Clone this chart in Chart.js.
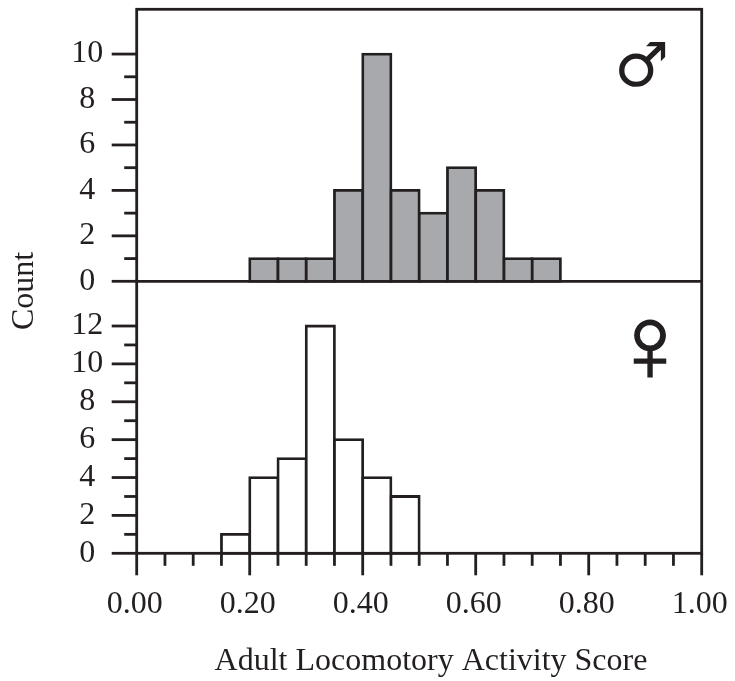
<!DOCTYPE html>
<html>
<head>
<meta charset="utf-8">
<style>html,body{margin:0;padding:0;background:#fff}#w{width:735px;height:681px}</style>
<script src="https://cdn.jsdelivr.net/npm/chart.js@4"></script>
</head>
<body>
<div id="w"><canvas id="c" width="735" height="681"></canvas></div>
<script>
const maleBins = [0.225,0.275,0.325,0.375,0.425,0.475,0.525,0.575,0.625,0.675,0.725];
const maleCounts = [1,1,1,4,10,4,3,5,4,1,1];
const femaleBins = [0.175,0.225,0.275,0.325,0.375,0.425,0.475];
const femaleCounts = [1,4,5,12,6,4,3];
const xTicks = [0,0.05,0.10,0.15,0.20,0.25,0.30,0.35,0.40,0.45,0.50,0.55,0.60,0.65,0.70,0.75,0.80,0.85,0.90,0.95,1.00];
const xLabelled = [0,0.20,0.40,0.60,0.80,1.00];
const maleTicks = [0,1,2,3,4,5,6,7,8,9,10];
const maleLabelled = [0,2,4,6,8,10];
const femaleTicks = [0,1,2,3,4,5,6,7,8,9,10,11,12];
const femaleLabelled = [0,2,4,6,8,10,12];
const xTitle = 'Adult Locomotory Activity Score';
const yTitle = 'Count';
const INK = '#231f20', FILL = '#a7a9ac', SERIF = '"Liberation Serif"', SIZE = 32, LW = 2.8;
const has = (arr, v) => arr.some(a => Math.abs(a - v) < 1e-6);
const noPad = s => { s.paddingLeft = s.paddingRight = s.paddingTop = s.paddingBottom = 0; };
const frame = {
  id: 'frame',
  afterDatasetsDraw(chart) {
    const {ctx, chartArea: a, scales} = chart, {x, male, female} = scales;
    ctx.save();
    ctx.strokeStyle = INK; ctx.lineWidth = LW; ctx.lineCap = 'butt';
    const seg = (x1, y1, x2, y2) => { ctx.beginPath(); ctx.moveTo(x1, y1); ctx.lineTo(x2, y2); ctx.stroke(); };
    ctx.strokeRect(a.left, a.top, a.right - a.left, a.bottom - a.top);
    seg(a.left, male.getPixelForValue(0), a.right, male.getPixelForValue(0));
    maleTicks.forEach(v => { const y = male.getPixelForValue(v); seg(a.left - (has(maleLabelled, v) ? 25 : 12.5), y, a.left, y); });
    femaleTicks.forEach(v => { const y = female.getPixelForValue(v); seg(a.left - (has(femaleLabelled, v) ? 25 : 12.5), y, a.left, y); });
    xTicks.forEach(v => { const p = x.getPixelForValue(v); seg(p, a.bottom, p, a.bottom + (has(xLabelled, v) ? 22 : 12.5)); });
    ctx.fillStyle = INK;
    ctx.font = SIZE + 'px ' + SERIF;
    ctx.textAlign = 'center'; ctx.textBaseline = 'middle';
    ctx.fillText(xTitle, 431, 662);
    ctx.save(); ctx.translate(25, 291); ctx.rotate(-Math.PI / 2); ctx.fillText(yTitle, 0, 0); ctx.restore();
    ctx.font = '61px "DejaVu Sans"';
    ctx.fillText('\u2642', x.getPixelForValue(0.8935), male.getPixelForValue(9.3));
    ctx.font = '108px "Liberation Sans"';
    ctx.lineWidth = 1.5;
    ctx.fillText('\u2640', x.getPixelForValue(0.9085), female.getPixelForValue(10.66));
    ctx.strokeText('\u2640', x.getPixelForValue(0.9085), female.getPixelForValue(10.66));
    ctx.restore();
  }
};
const yAxis = (stack, top, ticks, labelled) => ({
  type: 'linear', position: 'left', stack, stackWeight: 1, min: 0, max: top,
  grid: {display: false, drawTicks: false}, border: {display: false},
  afterBuildTicks(s) { s.ticks = ticks.map(value => ({value})); },
  afterFit(s) { s.width = 136.7; noPad(s); },
  ticks: {autoSkip: false, padding: 33.5, crossAlign: 'center', color: INK, font: {family: SERIF, size: SIZE},
    callback: v => has(labelled, v) ? String(v) : ''}
});
new Chart(document.getElementById('c'), {
  type: 'bar',
  data: {datasets: [
    {data: maleBins.map((x, i) => ({x, y: maleCounts[i]})), yAxisID: 'male', xAxisID: 'x', backgroundColor: FILL},
    {data: femaleBins.map((x, i) => ({x, y: femaleCounts[i]})), yAxisID: 'female', xAxisID: 'x', backgroundColor: '#fff'}
  ]},
  options: {
    responsive: false, animation: false, devicePixelRatio: 1,
    layout: {autoPadding: false, padding: {top: 9.3, right: 33.3, left: 0, bottom: 0}},
    plugins: {legend: {display: false}, tooltip: {enabled: false}},
    datasets: {bar: {grouped: false, barPercentage: 1, categoryPercentage: 1, borderColor: INK, borderWidth: LW, borderSkipped: false, inflateAmount: LW / 2, clip: false}},
    scales: {
      x: {type: 'linear', min: 0, max: 1, offset: false,
        grid: {display: false, drawTicks: false}, border: {display: false},
        afterBuildTicks(s) { s.ticks = xTicks.map(value => ({value})); },
        afterFit(s) { s.height = 127.7; noPad(s); },
        ticks: {autoSkip: false, maxRotation: 0, padding: 32, labelOffset: -2, color: INK, font: {family: SERIF, size: SIZE},
          callback: v => has(xLabelled, v) ? v.toFixed(2) : ''}},
      female: yAxis('sex', 14.36, femaleTicks, femaleLabelled),
      male: yAxis('sex', 11.97, maleTicks, maleLabelled)
    }
  },
  plugins: [frame]
});
</script>
</body>
</html>
